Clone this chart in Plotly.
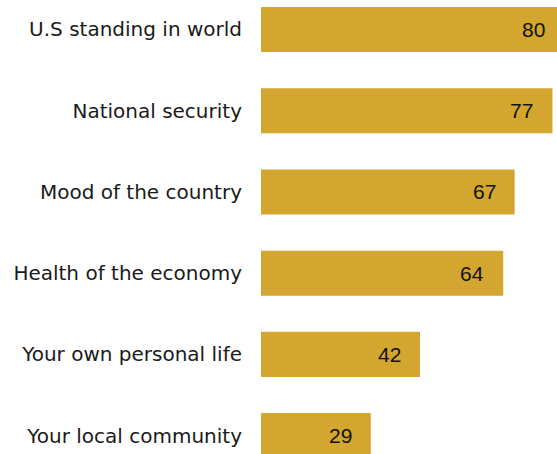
import plotly.graph_objects as go

# Categories listed bottom to top
categories = [
    "Your local community",
    "Your own personal life",
    "Health of the economy",
    "Mood of the country",
    "National security",
    "U.S standing in world",
]
values = [29, 42, 64, 67, 77, 80]

bar_color = "#D3A62F"
label_font = "DejaVu Sans, Arial, sans-serif"
value_font = "Liberation Sans, Arial, sans-serif"
x_max = 78.2  # the longest bar runs off the right edge

fig = go.Figure(
    go.Bar(
        x=values,
        y=categories,
        orientation="h",
        marker=dict(color=bar_color, line=dict(width=0)),
        width=0.555,
        hoverinfo="skip",
    )
)

# Value labels, right-aligned just inside each bar's end
for cat, val in zip(categories, values):
    fig.add_annotation(
        x=val / x_max, xref="x domain",
        y=cat, yref="y",
        text=str(val), showarrow=False,
        xanchor="right", yanchor="middle", xshift=-17,
        font=dict(family=value_font, size=21, color="#111111"),
    )

fig.update_layout(
    width=557, height=454,
    margin=dict(l=261, r=0, t=0, b=0),
    paper_bgcolor="white", plot_bgcolor="white",
    showlegend=False,
    xaxis=dict(range=[0, x_max], visible=False, fixedrange=True),
    yaxis=dict(
        range=[-0.226, 5.363],
        showgrid=False, zeroline=False, showline=False,
        ticks="", ticklabelstandoff=18,
        tickfont=dict(family=label_font, size=20, color="#1a1a1a"),
    ),
)

fig.write_html("out.html")
